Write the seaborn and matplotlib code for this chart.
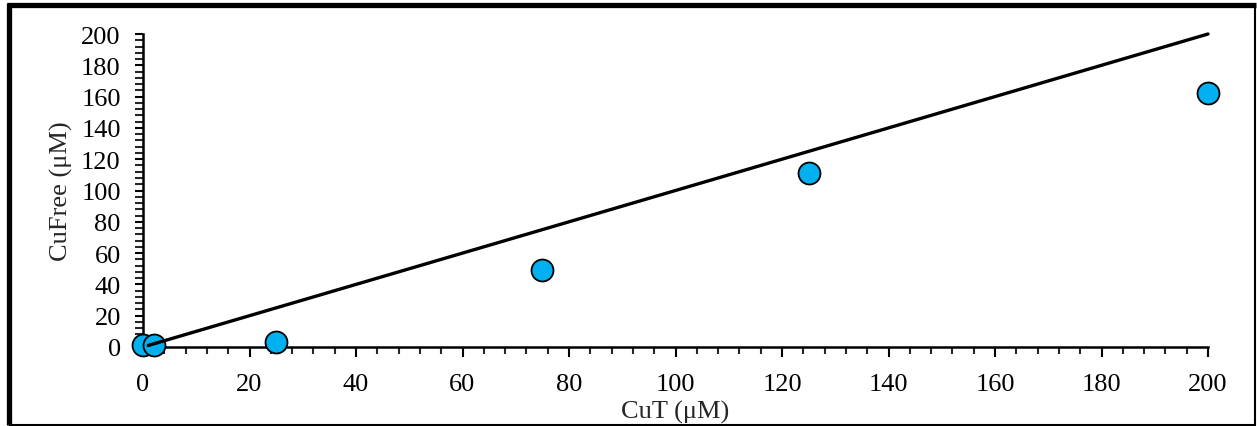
import matplotlib
matplotlib.use("Agg")
import matplotlib.pyplot as plt
import seaborn as sns
import pandas as pd
from matplotlib.ticker import MultipleLocator
from matplotlib.lines import Line2D

# Data
cu_total = [0, 2, 25, 75, 125, 200]
cu_free = [1, 1, 3, 49, 111, 162]
line_x = [1, 200]
line_y = [1, 200]
x_label = "CuT (μM)"
y_label = "CuFree (μM)"

sns.set_style("ticks")
plt.rcParams['font.family'] = ['Liberation Serif', 'DejaVu Serif']

fig = plt.figure(figsize=(12.57, 4.27), dpi=100)
W, H = 1257, 427
ax = fig.add_axes([143 / W, 1 - 348 / H, (1208 - 143) / W, (348 - 35) / H])

df = pd.DataFrame({"x": cu_total, "y": cu_free})
sns.scatterplot(data=df, x="x", y="y", ax=ax, s=250, color="#00B0F0",
                edgecolor="black", linewidth=1.3, zorder=3, clip_on=False)
sns.lineplot(x=line_x, y=line_y, ax=ax, color="black", linewidth=2.4,
             zorder=4, clip_on=False)

ax.set_xlim(0, 200)
ax.set_ylim(0, 200)
ax.xaxis.set_major_locator(MultipleLocator(20))
ax.xaxis.set_minor_locator(MultipleLocator(4))
ax.yaxis.set_major_locator(MultipleLocator(20))
ax.yaxis.set_minor_locator(MultipleLocator(4))

for s in ["top", "right"]:
    ax.spines[s].set_visible(False)
for s in ["left", "bottom"]:
    ax.spines[s].set_linewidth(1.8)
    ax.spines[s].set_color("black")

FS = 19
ax.tick_params(axis="x", which="major", length=7, width=1.5, pad=12,
               labelsize=FS, colors="black")
ax.tick_params(axis="x", which="minor", length=5, width=1.5)
ax.tick_params(axis="y", which="major", length=6, width=1.5, pad=10,
               labelsize=FS, colors="black")
ax.tick_params(axis="y", which="minor", length=6, width=1.5)

ax.set_xlabel(x_label, fontsize=FS, labelpad=3)
ax.set_ylabel(y_label, fontsize=FS, labelpad=6)

# Figure frame
kw = dict(transform=fig.transFigure, color="black", solid_capstyle="butt")
fig.add_artist(Line2D([8.5 / W, 8.5 / W], [1 - 3.5 / H, 1 - 426 / H],
                      linewidth=3.8, **kw))
fig.add_artist(Line2D([6.5 / W, 1256 / W], [1 - 5.5 / H, 1 - 5.5 / H],
                      linewidth=3.8, **kw))
fig.add_artist(Line2D([1255 / W, 1255 / W], [1 - 5.5 / H, 1 - 426 / H],
                      linewidth=1.5, **kw))
fig.add_artist(Line2D([8.5 / W, 1256 / W], [1 - 425.5 / H, 1 - 425.5 / H],
                      linewidth=1.5, **kw))

fig.savefig("out.png", dpi=100)
